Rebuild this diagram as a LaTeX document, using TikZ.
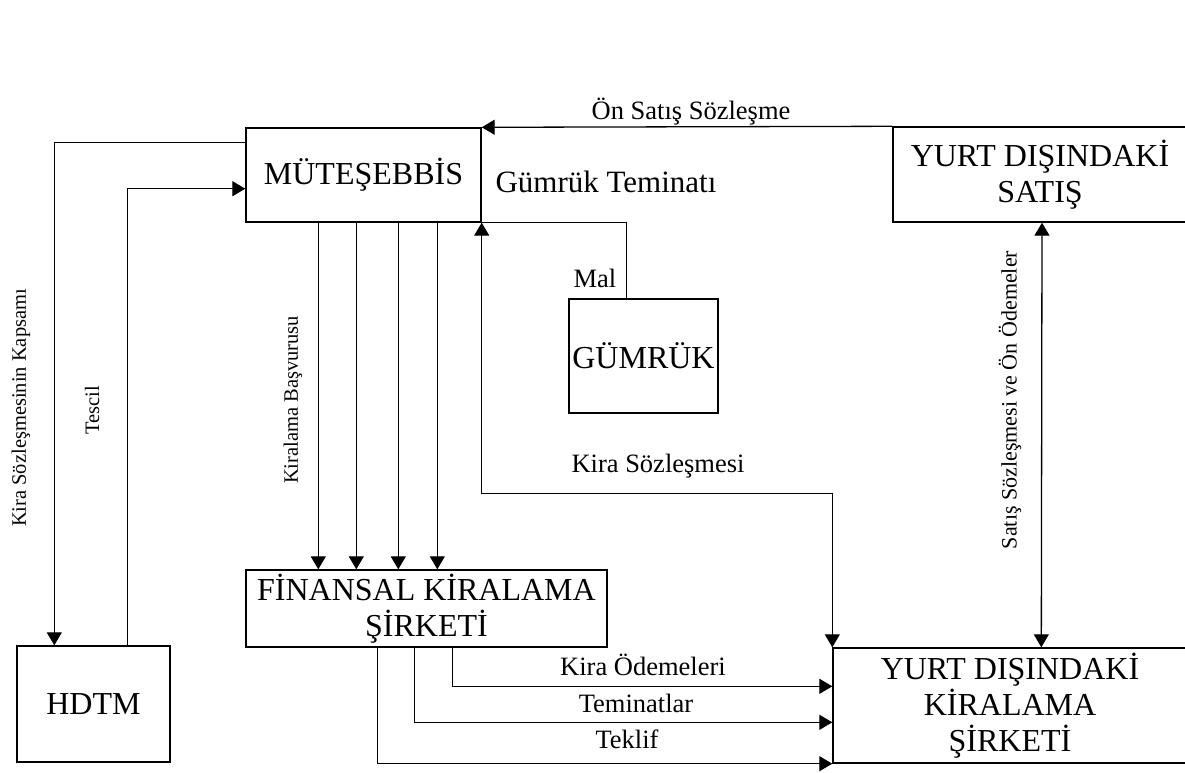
\documentclass[tikz,border=0pt]{standalone}
\usepackage{fontspec}
\setmainfont{Liberation Serif}
\usetikzlibrary{arrows.meta,calc}
\begin{document}
\begin{tikzpicture}[x=1pt,y=-1pt,
  box/.style={draw, line width=1.4pt, rectangle, inner sep=0pt, align=center, font=\fontsize{32}{36}\selectfont},
  conn/.style={line width=1.3pt},
  arr/.style={conn, -{Triangle[length=13pt,width=15pt]}},
  darr/.style={conn, {Triangle[length=13pt,width=15pt]}-{Triangle[length=13pt,width=15pt]}},
  lab/.style={font=\fontsize{26.5}{30}\selectfont, inner sep=0pt, anchor=base},
  vlab/.style={font=\fontsize{20.5}{24}\selectfont, inner sep=0pt, rotate=90}
]
\path[use as bounding box] (0,0) rectangle (1185,773);
\fill[white] (0,0) rectangle (1185,773);

% boxes
\node[box, minimum width=235pt, minimum height=94pt] (mut) at (363.5,175) {MÜTEŞEBBİS};
\node[box, minimum width=294pt, minimum height=95pt] (yds) at (1040,174.5) {YURT DIŞINDAKİ\\SATIŞ};
\node[box, minimum width=354pt, minimum height=115pt] (ydks) at (1010,705.5) {YURT DIŞINDAKİ\\KİRALAMA\\ŞİRKETİ};
\node[box, minimum width=153pt, minimum height=116pt] (hdtm) at (93.5,704) {HDTM};
\node[box, minimum width=361pt, minimum height=77pt] (fks) at (426.5,608.5) {FİNANSAL KİRALAMA\\ŞİRKETİ};
\node[box, minimum width=149pt, minimum height=114pt] (gum) at (643.5,356) {GÜMRÜK};

% labels
\node[lab] (l1) at (691,120) {Ön Satış Sözleşme};
\node[lab, font=\fontsize{31}{35}\selectfont] (l2) at (606,192) {Gümrük Teminatı};
\node[lab] (l3) at (595,287) {Mal};
\node[lab] (l4) at (658,472) {Kira Sözleşmesi};
\node[lab] (l5) at (643,675) {Kira Ödemeleri};
\node[lab] (l6) at (636,712) {Teminatlar};
\node[lab] (l7) at (627,748) {Teklif};
\node[vlab] (v1) at (21,408) {Kira Sözleşmesinin Kapsamı};
\node[vlab] (v2) at (92,410) {Tescil};
\node[vlab] (v3) at (293,400) {Kiralama Başvurusu};
\node[vlab, font=\fontsize{22}{26}\selectfont] (v4) at (1010,400) {Satış Sözleşmesi ve Ön Ödemeler};

% connectors
\draw[arr] (yds.north west) -- (mut.north east);
\draw[arr] ($(mut.north west)+(0,15)$) -| ($(hdtm.north west)+(38,0)$);
\draw[arr] ($(hdtm.north west)+(111,0)$) |- ($(mut.south west)+(0,-34)$);
\foreach \o in {73,111,153,192}
  \draw[arr] ($(mut.south west)+(\o,0)$) -- ($(fks.north west)+(\o,0)$);
\coordinate (ksc) at ($(mut.south east)+(0,271)$);
\draw[darr] (mut.south east) -- (ksc) -| (ydks.north west);
\draw[conn] (mut.south east) -| ($(gum.north west)+(58,0)$);
\draw[darr] ($(yds.south)+(2,0)$) -- ($(ydks.north west)+(209,0)$);
\draw[arr] ($(fks.south west)+(207,0)$) |- ($(ydks.north west)+(0,39)$);
\draw[arr] ($(fks.south west)+(169,0)$) |- ($(ydks.north west)+(0,75)$);
\draw[arr] ($(fks.south west)+(132,0)$) |- (ydks.south west);
\end{tikzpicture}
\end{document}
